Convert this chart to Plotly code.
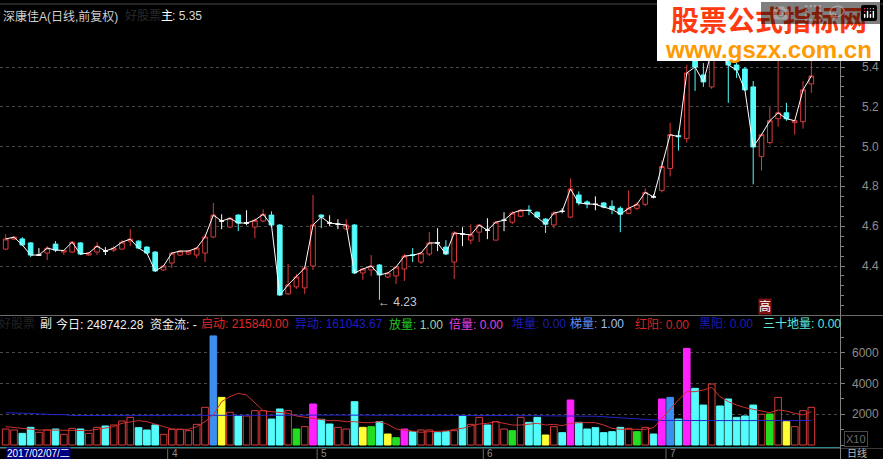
import plotly.graph_objects as go

W, H = 883, 459

# ---------------- data ----------------
opens = [4.485, 4.535, 4.536, 4.516, 4.455, 4.465, 4.51, 4.47, 4.47, 4.516,
         4.455, 4.47, 4.475, 4.48, 4.485, 4.525, 4.525, 4.495, 4.47, 4.38,
         4.415, 4.455, 4.46, 4.455, 4.465, 4.546, 4.626, 4.596, 4.656, 4.616,
         4.596, 4.626, 4.656, 4.606, 4.26, 4.295, 4.29, 4.40, 4.656, 4.616,
         4.61, 4.586, 4.606, 4.365, 4.38, 4.405, 4.345, 4.35, 4.385, 4.456,
         4.42, 4.46, 4.516, 4.495, 4.42, 4.56, 4.53, 4.57, 4.58, 4.53,
         4.63, 4.62, 4.65, 4.681, 4.67, 4.636, 4.606, 4.675, 4.646, 4.757,
         4.722, 4.71, 4.717, 4.70, 4.69, 4.665, 4.69, 4.71, 4.747, 4.78,
         4.89, 5.055, 5.04, 5.44, 5.36, 5.30, 5.56, 5.445, 5.41, 5.39,
         5.30, 4.95, 5.02, 5.14, 5.17, 5.12, 5.125, 5.315]
highs = [4.56, 4.55, 4.545, 4.52, 4.49, 4.50, 4.525, 4.48, 4.525, 4.52,
         4.47, 4.52, 4.495, 4.50, 4.53, 4.585, 4.53, 4.50, 4.475, 4.405,
         4.47, 4.48, 4.48, 4.495, 4.56, 4.717, 4.66, 4.645, 4.66, 4.68,
         4.64, 4.685, 4.675, 4.61, 4.41, 4.36, 4.40, 4.757, 4.66, 4.655,
         4.635, 4.635, 4.61, 4.39, 4.455, 4.41, 4.37, 4.40, 4.46, 4.49,
         4.47, 4.57, 4.59, 4.53, 4.575, 4.595, 4.61, 4.61, 4.64, 4.625,
         4.67, 4.675, 4.685, 4.705, 4.675, 4.64, 4.675, 4.69, 4.84, 4.775,
         4.73, 4.75, 4.72, 4.73, 4.70, 4.78, 4.72, 4.79, 4.76, 4.93,
         5.12, 5.08, 5.41, 5.50, 5.42, 5.55, 5.60, 5.47, 5.42, 5.40,
         5.33, 5.065, 5.20, 5.435, 5.22, 5.13, 5.33, 5.435]
lows = [4.48, 4.53, 4.50, 4.445, 4.45, 4.43, 4.47, 4.455, 4.465, 4.455,
        4.45, 4.455, 4.455, 4.47, 4.48, 4.50, 4.485, 4.46, 4.37, 4.375,
        4.39, 4.45, 4.455, 4.44, 4.42, 4.54, 4.585, 4.59, 4.575, 4.605,
        4.54, 4.62, 4.60, 4.25, 4.255, 4.285, 4.26, 4.38, 4.59, 4.60,
        4.585, 4.58, 4.36, 4.33, 4.35, 4.23, 4.34, 4.31, 4.325, 4.42,
        4.41, 4.45, 4.475, 4.455, 4.335, 4.50, 4.51, 4.52, 4.535, 4.53,
        4.575, 4.61, 4.645, 4.655, 4.64, 4.566, 4.59, 4.665, 4.64, 4.705,
        4.69, 4.68, 4.69, 4.66, 4.57, 4.66, 4.68, 4.70, 4.74, 4.77,
        4.85, 4.98, 5.02, 5.28, 5.30, 5.29, 5.45, 5.22, 5.345, 5.28,
        4.81, 4.88, 5.01, 5.10, 5.13, 5.06, 5.09, 5.27]
closes = [4.536, 4.545, 4.506, 4.455, 4.455, 4.49, 4.48, 4.478, 4.52, 4.46,
          4.465, 4.50, 4.475, 4.49, 4.52, 4.535, 4.49, 4.465, 4.375, 4.40,
          4.465, 4.475, 4.475, 4.49, 4.546, 4.656, 4.626, 4.64, 4.616, 4.616,
          4.63, 4.66, 4.606, 4.254, 4.305, 4.345, 4.39, 4.606, 4.646, 4.616,
          4.61, 4.606, 4.365, 4.385, 4.40, 4.355, 4.365, 4.395, 4.45, 4.454,
          4.465, 4.516, 4.516, 4.46, 4.566, 4.56, 4.556, 4.606, 4.58, 4.62,
          4.63, 4.666, 4.68, 4.679, 4.646, 4.61, 4.666, 4.675, 4.787, 4.717,
          4.712, 4.71, 4.696, 4.685, 4.66, 4.69, 4.71, 4.77, 4.747, 4.90,
          5.06, 5.05, 5.37, 5.40, 5.325, 5.48, 5.48, 5.41, 5.385, 5.285,
          4.998, 5.06, 5.13, 5.17, 5.14, 5.13, 5.285, 5.355]

volumes = [1040, 977, 760, 1150, 825, 977, 1040, 695, 1085, 1040,
           760, 1150, 1237, 1302, 1562, 1800, 1128, 977, 1302, 695,
           1020, 1020, 933, 1345, 2453, 7100, 3100, 2130, 1890, 1890,
           2235, 2235, 1690, 2345, 2235, 1040, 1193, 2670, 1672, 1367,
           1150, 1040, 2820, 1150, 1193, 1519, 716, 477, 1040, 868,
           977, 977, 803, 868, 933, 1890, 1345, 1800, 1302, 1519,
           1040, 933, 1800, 1475, 1800, 651, 1193, 803, 2930, 1475,
           1040, 1128, 803, 868, 1150, 1085, 868, 1150, 716, 2995,
           3100, 1690, 6290, 3690, 2600, 3970, 2540, 2995, 1800, 1890,
           2600, 2000, 2020, 3100, 1519, 1193, 2235, 2453]

# bar signal per day: up / dn / yidong / fangliang / beiliang / huang
vol_signal = ["up", "up", "dn", "dn", "up", "up", "dn", "up", "up", "dn",
              "up", "up", "dn", "up", "up", "up", "dn", "dn", "dn", "up",
              "up", "up", "up", "up", "up", "yidong", "huang", "up", "dn", "up",
              "up", "up", "dn", "dn", "up", "fangliang", "up", "beiliang", "dn", "dn",
              "up", "up", "dn", "huang", "fangliang", "dn", "huang", "fangliang", "beiliang", "dn",
              "up", "up", "dn", "dn", "up", "dn", "up", "up", "dn", "up",
              "up", "fangliang", "up", "dn", "dn", "huang", "up", "dn", "beiliang", "dn",
              "dn", "dn", "dn", "dn", "dn", "up", "fangliang", "up", "dn", "beiliang",
              "yidong", "dn", "beiliang", "dn", "dn", "up", "dn", "dn", "dn", "dn",
              "dn", "up", "fangliang", "up", "huang", "up", "up", "up"]

vol_ma_short = [1193, 1128, 1085, 1020, 977, 977, 977, 977, 977, 977,
                933, 1020, 1085, 1193, 1411, 1519, 1584, 1519, 1367, 1193,
                1042, 1020, 1020, 1193, 1519, 1953, 2821, 3146, 3364, 3255,
                2713, 2235, 2170, 2105, 2062, 1888, 1801, 1736, 1628, 1584,
                1584, 1519, 1519, 1454, 1454, 1519, 1346, 1042, 977, 911,
                825, 868, 911, 911, 1020, 1085, 1237, 1367, 1411, 1519,
                1411, 1302, 1302, 1367, 1411, 1302, 1346, 1258, 1411, 1454,
                1454, 1454, 1302, 1085, 1020, 1020, 977, 1020, 1128, 1736,
                2387, 2930, 3472, 3472, 3581, 3754, 3146, 2821, 2604, 2430,
                2322, 2213, 2105, 2279, 2213, 2062, 1953, 2170]

vol_ma_long = [2100, 2100, 2100, 2060, 2020, 1980, 1980, 1980, 1920, 1920,
               1920, 1920, 1920, 1920, 1920, 1920, 1920, 1920, 1920, 1920,
               1920, 1920, 1920, 1920, 1920, 1900, 1900, 1900, 1900, 1900,
               1900, 1900, 1900, 1900, 1900, 1900, 1920, 1940, 1950, 1950,
               1950, 1950, 1950, 1950, 1950, 1950, 1950, 1950, 1950, 1950,
               1950, 1950, 1950, 1950, 1950, 1950, 1950, 1950, 1950, 1950,
               1950, 1940, 1930, 1920, 1910, 1900, 1900, 1900, 1900, 1890,
               1880, 1870, 1840, 1800, 1760, 1720, 1690, 1660, 1630, 1600,
               1600, 1590, 1590, 1590, 1590, 1590, 1590, 1590, 1590, 1590,
               1590, 1590, 1590, 1590, 1590, 1590, 1590, 1590]

month_start_idx = [20, 38, 58, 80]
month_labels = ["4", "5", "6", "7"]
price_ticks = [4.4, 4.6, 4.8, 5.0, 5.2, 5.4]
vol_ticks = [2000, 4000, 6000]

title_name = "深康佳A(日线,前复权)"
main_label = "主"
last_close_text = ": 5.35"
sub_items = [("启动", "215840.00"), ("异动", "161043.67"), ("放量", "1.00"),
             ("倍量", "0.00"), ("堆量", "0.00"), ("梯量", "1.00"),
             ("红阳", "0.00"), ("黑阳", "0.00"), ("三十地量", "0.00")]
today_text = "今日: 248742.28  资金流: -"
date_text = "2017/02/07/二"
watermark_cn = "股票公式指标网"
watermark_url = "www.gszx.com.cn"

# ---------------- styles ----------------
RED = "#d83a3a"
CYAN = "#54fcfc"
WHITE = "#ffffff"
GRAY = "#8c8c8c"
sig_colors = {"up": RED, "dn": CYAN, "yidong": "#3d8fef", "fangliang": "#22dd22",
              "beiliang": "#ff22ff", "huang": "#ffff33"}
sub_colors = [("#e02828", "#e02828"), ("#1c1cc8", "#1c1cc8"), ("#22c822", "#9fd49f"),
              ("#e040e0", "#e040e0"), ("#1c1cb4", "#1c1cb4"), ("#5a8cff", "#9fbfff"),
              ("#d82424", "#d82424"), ("#1c1cb4", "#1c1cb4"), ("#5ee8d8", "#5ee8d8")]
sub_x = [199, 293, 387, 447, 510, 568, 633, 697, 761]
FONT = "Liberation Sans, Noto Sans CJK SC, sans-serif"

# pixel layout helpers
PLOT_RIGHT = 840
X_LEFT_IDX, X_RIGHT_IDX = -0.686, 100.45
def fx(px):
    return px / W
def fy(py):
    return 1 - py / H

P_TOP, P_BOT = 20, 315          # price panel pixels
V_TOP, V_BOT = 330, 447         # volume panel pixels
price_range = [4.4 - (P_BOT - 266) / 199, 4.4 + (266 - P_TOP) / 199]
vol_range = [-(V_BOT - 445) * 65.1, (445 - V_TOP) * 65.1]

n = len(closes)
idx = list(range(n))

fig = go.Figure()

def candle(ids, color, fill):
    return go.Candlestick(
        x=ids, open=[opens[i] for i in ids], high=[highs[i] for i in ids],
        low=[lows[i] for i in ids], close=[closes[i] for i in ids],
        increasing=dict(line=dict(color=color, width=1), fillcolor=fill),
        decreasing=dict(line=dict(color=color, width=1), fillcolor=fill),
        whiskerwidth=0, hoverinfo="skip", showlegend=False, xaxis="x", yaxis="y")

up_ids = [i for i in idx if closes[i] > opens[i]]
dn_ids = [i for i in idx if closes[i] < opens[i]]
dj_ids = [i for i in idx if closes[i] == opens[i]]
fig.add_trace(candle(up_ids, RED, "black"))
fig.add_trace(candle(dn_ids, CYAN, CYAN))
fig.add_trace(candle(dj_ids, WHITE, WHITE))

fig.add_trace(go.Scatter(x=idx, y=closes, mode="lines", line=dict(color=WHITE, width=1),
                         hoverinfo="skip", xaxis="x", yaxis="y"))

bar_fill = ["black" if s == "up" else sig_colors[s] for s in vol_signal]
bar_line = [sig_colors[s] for s in vol_signal]
fig.add_trace(go.Bar(x=idx, y=volumes, width=0.8,
                     marker=dict(color=bar_fill, line=dict(color=bar_line, width=1)),
                     hoverinfo="skip", xaxis="x", yaxis="y2"))
fig.add_trace(go.Scatter(x=idx, y=vol_ma_long, mode="lines", line=dict(color="#2424d0", width=1),
                         hoverinfo="skip", xaxis="x", yaxis="y2"))
fig.add_trace(go.Scatter(x=idx, y=vol_ma_short, mode="lines", line=dict(color="#cc3030", width=1),
                         hoverinfo="skip", xaxis="x", yaxis="y2"))

axis_common = dict(side="right", anchor="x", showgrid=True, gridcolor="#4a4a4a", griddash="dot",
                   gridwidth=1, zeroline=False, showticklabels=False, ticks="outside",
                   ticklen=4, tickcolor="#808080", fixedrange=True)
fig.update_layout(
    width=W, height=H, margin=dict(l=0, r=0, t=0, b=0),
    paper_bgcolor="black", plot_bgcolor="black", showlegend=False, boxgap=0.2,
    xaxis=dict(domain=[0, fx(PLOT_RIGHT)], range=[X_LEFT_IDX, X_RIGHT_IDX], visible=False,
               rangeslider=dict(visible=False), fixedrange=True),
    yaxis=dict(domain=[fy(P_BOT), fy(P_TOP)], range=price_range, tickvals=price_ticks,
               minor=dict(dtick=0.05, tick0=0, ticks="outside", ticklen=3, tickcolor="#808080",
                          showgrid=False), **axis_common),
    yaxis2=dict(domain=[fy(V_BOT), fy(V_TOP)], range=vol_range, tickvals=vol_ticks,
                minor=dict(dtick=1000, tick0=0, ticks="outside", ticklen=3, tickcolor="#808080",
                           showgrid=False), **axis_common),
    font=dict(family=FONT, size=12, color=WHITE),
)

ann = []
# right axis labels (right-aligned)
for v in price_ticks:
    ann.append(dict(x=fx(881), xref="paper", y=v, yref="y", text=f"{v:.1f}", xanchor="right",
                    yanchor="middle", showarrow=False, font=dict(color=GRAY, size=12)))
for v in vol_ticks:
    ann.append(dict(x=fx(881), xref="paper", y=v, yref="y2", text=f"{v}", xanchor="right",
                    yanchor="middle", showarrow=False, font=dict(color=GRAY, size=12)))

def txt(x, y, text, color, size=12, **kw):
    d = dict(x=fx(x), y=fy(y), xref="paper", yref="paper", text=text, xanchor="left",
             yanchor="middle", showarrow=False, font=dict(color=color, size=size))
    d.update(kw)
    ann.append(d)

# header row
txt(1, 16, title_name, "#cfcfcf")
txt(123, 16, "好股票", "#2a2a2a")
txt(159, 16, main_label, WHITE)
txt(170, 16, last_close_text, "#d8d8d8")

# sub row
txt(-3, 324, "好股票", "#222222")
txt(38, 324, "副", "#e6e6e6")
txt(54, 324, today_text, "#f0f0f0")
for (lab, val), (c1, c2), x0 in zip(sub_items, sub_colors, sub_x):
    txt(x0, 324, f"<span style='color:{c1}'>{lab}</span>: <span style='color:{c2}'>{val}</span>", c1)

# low price marker
lo_i = min(idx, key=lambda i: lows[i])
ann.append(dict(x=lo_i, xref="x", y=lows[lo_i], yref="y", text=f"← {lows[lo_i]:.2f}",
                xanchor="left", yanchor="middle", xshift=-3, yshift=-2, showarrow=False,
                font=dict(color="#c8c8c8", size=12)))
# 高 marker
txt(758, 306, "高", WHITE, bgcolor="#7a1010", borderpad=0)

# watermark (one two-line text block)
wm = (f"<span style='font-size:28px;color:#ff3a10;font-family:Noto Sans CJK SC'><b>{watermark_cn}</b></span>"
      f"<br><span style='font-size:24px;color:#ff9a00;font-family:Liberation Sans'><b>{watermark_url}</b></span>")
ann.append(dict(x=fx(768), y=fy(31), xref="paper", yref="paper", text=wm, xanchor="center",
                yanchor="middle", showarrow=False, align="center",
                font=dict(color="#ff3a10", size=21, family="Noto Sans CJK SC")))

# bottom strip
txt(6, 453.5, date_text, WHITE, size=10, bgcolor="#000080", borderpad=0)
for i0, lab in zip(month_start_idx, month_labels):
    ann.append(dict(x=i0 - 0.5, xref="x", y=fy(453.5), yref="paper", text=lab, xanchor="left",
                    yanchor="middle", xshift=2, showarrow=False, font=dict(color=GRAY, size=10)))
txt(844, 439, "X10", "#6a6a6a", size=11, bordercolor="#4a4a4a", borderwidth=1, borderpad=1)
txt(845, 453, "日线", "#bbbbbb", size=10)

fig.update_layout(annotations=ann)

shapes = []
def hline(y, x0, x1, color, width=1):
    shapes.append(dict(type="line", xref="paper", yref="paper", x0=fx(x0), x1=fx(x1),
                       y0=fy(y), y1=fy(y), line=dict(color=color, width=width)))
hline(4, 0, 883, "#4a4a4a")
hline(315.5, 0, 883, "#6a6a6a")
hline(447.5, 0, 840, "#2a8a8a")
hline(448.5, 0, 883, "#3a3a3a")
shapes.append(dict(type="line", xref="paper", yref="paper", x0=fx(840.5), x1=fx(840.5),
                   y0=0, y1=1, line=dict(color="#808080", width=1)))
for i0 in month_start_idx:
    shapes.append(dict(type="line", xref="x", yref="paper", x0=i0 - 0.5, x1=i0 - 0.5,
                       y0=fy(459), y1=fy(449), line=dict(color="#6a6a6a", width=1)))
# watermark box
shapes.append(dict(type="rect", xref="paper", yref="paper", x0=fx(657), x1=fx(880),
                   y0=fy(61), y1=fy(0), fillcolor="white", line=dict(width=0), layer="above"))
fig.update_layout(shapes=shapes)

fig.write_html("out.html",
               post_script="document.body.style.margin='0';document.body.style.overflow='hidden';")
